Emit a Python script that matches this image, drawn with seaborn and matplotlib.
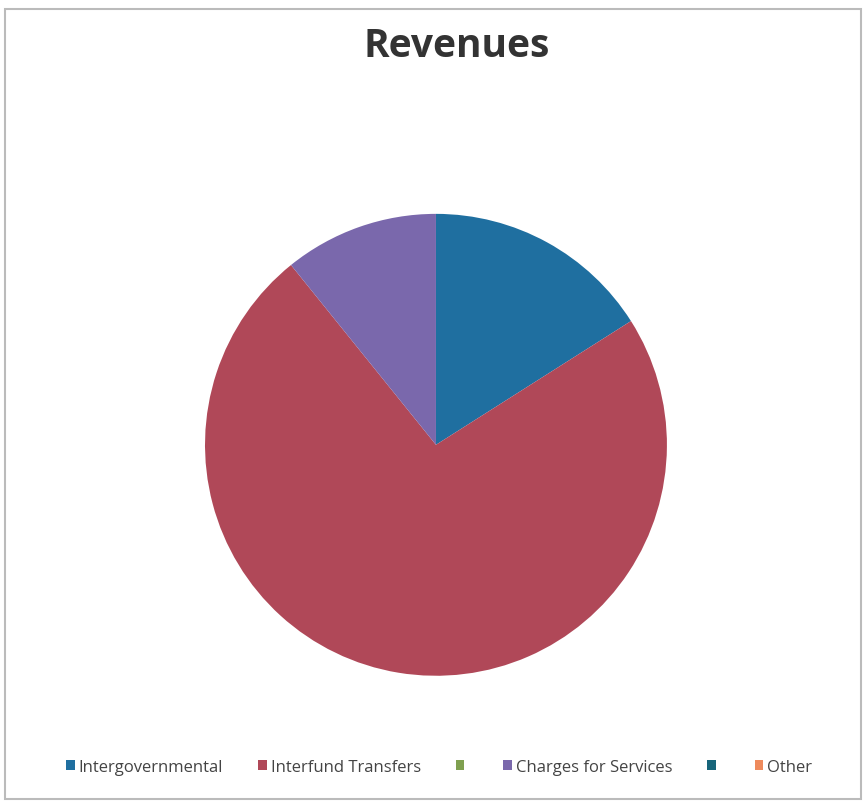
"""Revenues pie chart."""
import matplotlib.pyplot as plt
import seaborn as sns
from matplotlib.patches import Patch, Rectangle

categories = ["Intergovernmental", "Interfund Transfers", "", "Charges for Services", "", "Other"]
values = [160, 732, 0, 108, 0, 0]
colors = ["#1F6FA0", "#B04858", "#7FA050", "#7A68AC", "#17657A", "#EE8A5C"]

sns.set_theme(style="white")
plt.rcParams["font.family"] = ["Open Sans", "DejaVu Sans"]

fig = plt.figure(figsize=(8.65, 8.04), dpi=100)
fig.patches.append(Rectangle((0.006, 0.005), 0.989, 0.983, transform=fig.transFigure,
                             fill=False, edgecolor="#BBBBBB", linewidth=1.5))

ax = fig.add_axes([0.237, 0.158, 0.534, 0.575])
ax.pie(values, colors=colors, startangle=90, counterclock=False,
       wedgeprops={"linewidth": 0})
ax.set_xlim(-1, 1)
ax.set_ylim(-1, 1)
ax.set_aspect("equal")

fig.text(0.528, 0.942, "Revenues", ha="center", va="center",
         fontsize=28, fontweight="bold", color="#333333")

handles = [Patch(facecolor=c, edgecolor="none") for c in colors]
fig.legend(handles, categories, loc="center", bbox_to_anchor=(0.508, 0.045), ncol=6,
           frameon=False, fontsize=12, handlelength=0.5, handleheight=0.5,
           handletextpad=0.25, columnspacing=2.1, labelcolor="#444444")

fig.savefig("out.png", dpi=100)
plt.close(fig)
